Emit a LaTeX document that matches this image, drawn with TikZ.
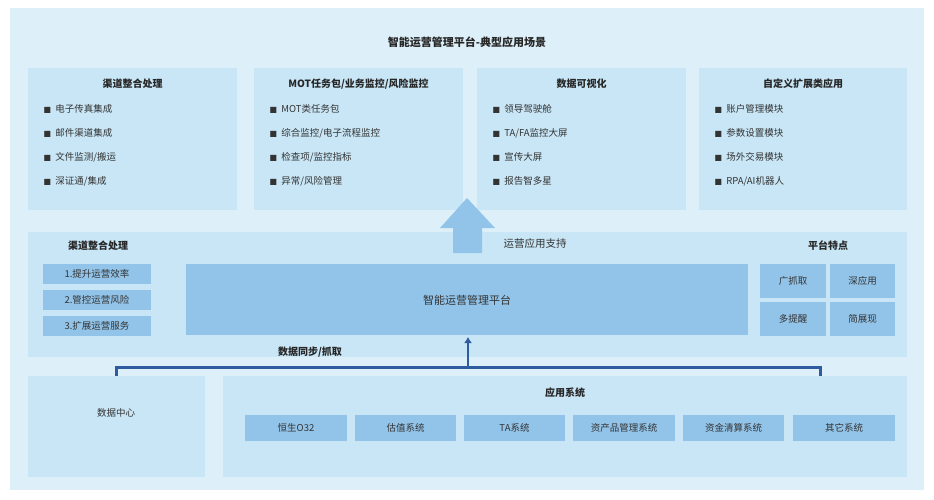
\documentclass[tikz,border=0pt]{standalone}
\usepackage{fontspec}
\usetikzlibrary{arrows.meta}
\setmainfont{Noto Sans CJK SC}
\newcommand{\tbox}[8]{%
 \fill[c1] (#1,68) rectangle (#2,210);
 \node[ttl] (top#8) at ({(#1+#2)/2},84) {#3};
 \node[item] at (#1+12,109) {\bul#4};
 \node[item] at (#1+12,133) {\bul#5};
 \node[item] at (#1+12,157) {\bul#6};
 \node[item] at (#1+12,181) {\bul#7};}
\newcommand{\bul}{{\fontspec{DejaVu Sans}\fontsize{8}{9}\selectfont ■}\ \ }
\begin{document}
\begin{tikzpicture}[x=1pt,y=-1pt,
 ttl/.style={font=\bfseries\fontsize{10}{12}\selectfont,text=black!85},
 txt/.style={font=\fontsize{9.5}{11}\selectfont,text=black!80},
 item/.style={font=\fontsize{9.5}{11}\selectfont,text=black!80,anchor=west}]
\definecolor{c0}{HTML}{DDF0F9}
\definecolor{c1}{HTML}{C8E6F6}
\definecolor{c2}{HTML}{92C4E9}
\definecolor{dk}{HTML}{2F5C9E}
\useasboundingbox (0,0) rectangle (934,500);
\fill[white] (0,0) rectangle (934,500);
\fill[c0] (10,8) rectangle (924,490);
\node[ttl,font=\bfseries\fontsize{11}{13}\selectfont] (title) at (467,42) {智能运营管理平台-典型应用场景};
\tbox{28}{237}{渠道整合处理}{电子传真集成}{邮件渠道集成}{文件监测/搬运}{深证通/集成}{1}
\tbox{254}{463}{MOT任务包/业务监控/风险监控}{MOT类任务包}{综合监控/电子流程监控}{检查项/监控指标}{异常/风险管理}{2}
\tbox{477}{686}{数据可视化}{领导驾驶舱}{TA/FA监控大屏}{宣传大屏}{报告智多星}{3}
\tbox{699}{907}{自定义扩展类应用}{账户管理模块}{参数设置模块}{场外交易模块}{RPA/AI机器人}{4}
% middle panel
\fill[c1] (28,232) rectangle (907,357);
\fill[c2] (440,228) -- (467,198) -- (495,228) -- (482,228) -- (482,253) -- (453,253) -- (453,228) -- cycle;
\node[ttl] (lt) at (98,246) {渠道整合处理};
\foreach \y/\t [count=\i] in {264/1.提升运营效率,290/2.管控运营风险,316/3.扩展运营服务}{
 \fill[c2] (43,\y) rectangle (151,\y+20);
 \node[txt] (l\i) at (97,\y+10) {\t};
}
\fill[c2] (186,264) rectangle (748,335);
\node[txt,font=\fontsize{11}{13}\selectfont] (plat) at (467,300) {智能运营管理平台};
\node[txt,font=\fontsize{10.5}{12}\selectfont] (sup) at (535,244) {运营应用支持};
\node[ttl] (feat) at (828,246) {平台特点};
\foreach \xa/\xb/\ya/\yb/\t in {760/826/264/298/广抓取,830/895/264/298/深应用,760/826/302/336/多提醒,830/895/302/336/简展现}{
 \fill[c2] (\xa,\ya) rectangle (\xb,\yb);
 \node[txt] at ({(\xa+\xb)/2},{(\ya+\yb)/2}) {\t};
}
% bottom
\fill[c1] (28,376) rectangle (205,477);
\node[txt] (dc) at (116,413) {数据中心};
\fill[c1] (223,376) rectangle (907,477);
\node[ttl] (app) at (565,393) {应用系统};
\foreach \xa/\xb/\t in {245/347/恒生O32,355/456/估值系统,464/565/TA系统,573/675/资产品管理系统,683/784/资金清算系统,793/895/其它系统}{
 \fill[c2] (\xa,415) rectangle (\xb,441);
 \node[txt] at ({(\xa+\xb)/2},428) {\t};
}
% data sync arrow
\coordinate (s1) at (116,376);
\coordinate (s2) at (820,376);
\coordinate (p1) at (468,367);
\coordinate (p2) at (468,337);
\draw[dk,line width=3pt] (s1) -- (116,367) -- (820,367) -- (s2);
\draw[dk,line width=2.5pt,-{Latex[length=6pt,width=8pt]}] (p1) -- (p2);
\node[ttl] (sync) at (310,352) {数据同步/抓取};
\end{tikzpicture}
\end{document}
